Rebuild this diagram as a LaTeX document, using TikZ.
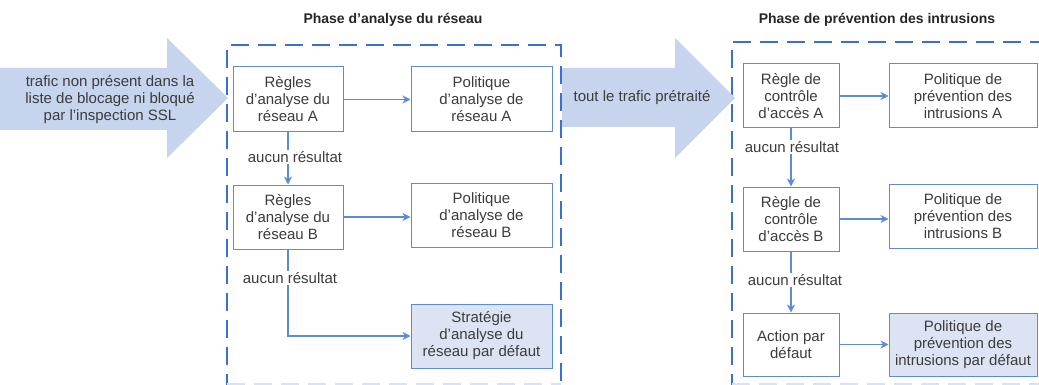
\documentclass[tikz,border=0pt]{standalone}
\usepackage{fontspec}
\setmainfont{Liberation Sans}
\usetikzlibrary{arrows.meta}
\definecolor{boxblue}{HTML}{5B8BDB}
\definecolor{dashblue}{HTML}{3B6FD2}
\definecolor{arrowfill}{HTML}{C6D4EE}
\definecolor{deffill}{HTML}{DCE4F4}
\definecolor{txt}{HTML}{3C3C3C}
\tikzset{
  stepbox/.style={draw=boxblue, line width=1pt, fill=white, align=center, inner sep=0pt,
    font=\fontsize{15}{17}\selectfont, text=txt},
  defbox/.style={stepbox, fill=deffill},
  conn/.style={draw=boxblue, line width=1.4pt, -{Stealth[length=8pt,width=8pt,inset=2.5pt]}},
  lbl/.style={fill=white, inner sep=1pt, font=\fontsize{15}{17}\selectfont, text=txt},
  phase/.style={dashblue, line width=1.8pt, dash pattern=on 18pt off 9pt},
  ttl/.style={font=\fontsize{14}{17}\selectfont\bfseries, text=black!85},
  bigarrow/.style={fill=arrowfill, draw=none},
}
\begin{document}
\begin{tikzpicture}[x=1pt,y=-1pt]
\useasboundingbox (0,0) rectangle (1039,385);
% phase frames
\draw[phase] (227,392) -- (227,45) -- (561,45) -- (561,392);
\draw[phase] (732,392) -- (732,42) -- (1050,42);
\draw[phase, draw=dashblue!20] (227,384) -- (561,384);
\draw[phase, draw=dashblue!20] (732,384) -- (1050,384);
% titles
\node[ttl] (t1) at (393,20) {Phase d’analyse du réseau};
\node[ttl] (t2) at (877,20) {Phase de prévention des intrusions};
% big arrows
\fill[bigarrow] (0,68) -- (167,68) -- (167,38) -- (228,98) -- (167,158) -- (167,130) -- (0,130) -- cycle;
\node[align=center, font=\fontsize{15}{17}\selectfont, text=txt] (in) at (110,100)
  {trafic non présent dans la\\liste de blocage ni bloqué\\par l'inspection SSL};
\fill[bigarrow] (562,68) -- (675,68) -- (675,38) -- (735,98) -- (675,158) -- (675,127) -- (562,127) -- cycle;
\node[font=\fontsize{15}{17}\selectfont, text=txt] (mid) at (642,98) {tout le trafic prétraité};
% network analysis boxes
\node[stepbox, minimum width=110pt, minimum height=65pt] (ra) at (288,99.5) {Règles\\d’analyse du\\réseau A};
\node[stepbox, minimum width=141pt, minimum height=65pt] (pa) at (481.5,99.5) {Politique\\d’analyse de\\réseau A};
\node[stepbox, minimum width=110pt, minimum height=64pt] (rb) at (288,217) {Règles\\d’analyse du\\réseau B};
\node[stepbox, minimum width=141pt, minimum height=64pt] (pb) at (481.5,215) {Politique\\d’analyse de\\réseau B};
\node[defbox, minimum width=141pt, minimum height=64pt] (da) at (481.5,336) {Stratégie\\d’analyse du\\réseau par défaut};
% intrusion boxes
\node[stepbox, minimum width=96pt, minimum height=64pt] (ca) at (791,96) {Règle de\\contrôle\\d’accès A};
\node[stepbox, minimum width=148pt, minimum height=64pt] (ia) at (963,96) {Politique de\\prévention des\\intrusions A};
\node[stepbox, minimum width=96pt, minimum height=64pt] (cb) at (791,219) {Règle de\\contrôle\\d’accès B};
\node[stepbox, minimum width=148pt, minimum height=64pt] (ib) at (963,216.5) {Politique de\\prévention des\\intrusions B};
\node[stepbox, minimum width=96pt, minimum height=63pt] (act) at (791,344.5) {Action par\\défaut};
\node[defbox, minimum width=148pt, minimum height=63pt] (id) at (963,344.5) {Politique de\\prévention des\\intrusions par défaut};
% connectors
\draw[conn] (ra.east) -- (ra.east -| pa.west);
\draw[conn] (rb.east) -- (rb.east -| pb.west);
\draw[conn] (ra.south) -- (ra.south |- rb.north);
\draw[conn] (rb.south) -- (rb.south |- da.west) -- (da.west);
\draw[conn] (ca.east) -- (ca.east -| ia.west);
\draw[conn] (cb.east) -- (cb.east -| ib.west);
\draw[conn] (act.east) -- (act.east -| id.west);
\draw[conn] (ca.south) -- (ca.south |- cb.north);
\draw[conn] (cb.south) -- (cb.south |- act.north);
% labels
\node[lbl] (l1) at (295,157) {aucun résultat};
\node[lbl] (l2) at (290,278) {aucun résultat};
\node[lbl] (l3) at (792,147) {aucun résultat};
\node[lbl] (l4) at (795,280) {aucun résultat};
\end{tikzpicture}
\end{document}
